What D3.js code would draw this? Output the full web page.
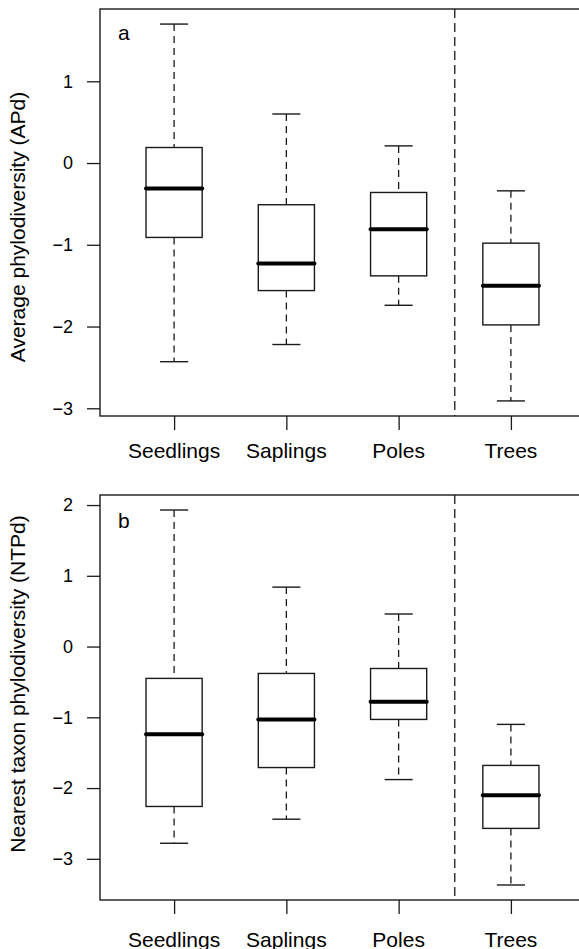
<!DOCTYPE html>
<html>
<head>
<meta charset="utf-8">
<script src="https://cdn.jsdelivr.net/npm/d3@7"></script>
<style>
  body { margin: 0; background: #fff; }
  svg { display: block; font-family: "Liberation Sans", Arial, Helvetica, sans-serif; }
</style>
</head>
<body>
<svg id="chart" width="579" height="949"></svg>
<script>
// categories (stage classes)
var categories = ["Seedlings", "Saplings", "Poles", "Trees"];

// panel a: average phylodiversity (APd), five-number summaries
var apdLow    = [-2.43, -2.22, -1.74, -2.91];
var apdQ1     = [-0.91, -1.56, -1.38, -1.98];
var apdMedian = [-0.31, -1.23, -0.81, -1.50];
var apdQ3     = [ 0.19, -0.51, -0.36, -0.98];
var apdHigh   = [ 1.70,  0.60,  0.21, -0.34];
var apdTicks  = [-3, -2, -1, 0, 1];

// panel b: nearest taxon phylodiversity (NTPd)
var ntpLow    = [-2.78, -2.44, -1.88, -3.37];
var ntpQ1     = [-2.26, -1.71, -1.03, -2.57];
var ntpMedian = [-1.24, -1.03, -0.78, -2.10];
var ntpQ3     = [-0.45, -0.38, -0.31, -1.68];
var ntpHigh   = [ 1.93,  0.84,  0.46, -1.10];
var ntpTicks  = [-3, -2, -1, 0, 1, 2];

var lineColor = "#1a1a1a";
var svg = d3.select("#chart");

// x: boxes sit at 1..n, R style limits (0.5..n+0.5, padded 4%)
var pad = 0.04 * categories.length;
var x = d3.scaleLinear()
    .domain([0.5 - pad, categories.length + 0.5 + pad])
    .range([100, 585]);
var boxHalf = 0.25, capHalf = 0.125;

function minus(v) {
  return v < 0 ? "\u2212" + Math.abs(v) : String(v);
}

function drawPanel(opt) {
  var lo = d3.min(opt.low), hi = d3.max(opt.high);
  var ext = (hi - lo) * 0.04;
  var y = d3.scaleLinear().domain([lo - ext, hi + ext]).range([opt.bottom, opt.top]);
  var g = svg.append("g");

  // frame (right side falls outside the picture)
  g.append("rect")
    .attr("x", x.range()[0]).attr("y", opt.top)
    .attr("width", x.range()[1] - x.range()[0])
    .attr("height", opt.bottom - opt.top)
    .attr("fill", "none").attr("stroke", lineColor).attr("stroke-width", 1.4);

  // y axis
  var yAxis = d3.axisLeft(y).tickValues(opt.ticks).tickSize(13).tickPadding(14)
      .tickFormat(minus);
  var ya = g.append("g").attr("transform", "translate(" + x.range()[0] + ",0)").call(yAxis);
  ya.select(".domain").remove();
  ya.selectAll(".tick line").attr("stroke", lineColor).attr("stroke-width", 1.3);
  ya.selectAll(".tick text").attr("fill", "#000").style("font-size", "18px");

  // x axis
  var xAxis = d3.axisBottom(x).tickValues(d3.range(1, categories.length + 1))
      .tickSize(14).tickPadding(0).tickFormat(function() { return ""; });
  var xa = g.append("g").attr("transform", "translate(0," + opt.bottom + ")").call(xAxis);
  xa.select(".domain").remove();
  xa.selectAll(".tick line").attr("stroke", lineColor).attr("stroke-width", 1.3);
  g.selectAll(".xlab").data(categories).enter().append("text")
    .attr("x", function(d, i) { return x(i + 1); })
    .attr("y", opt.labelY)
    .attr("text-anchor", "middle")
    .style("font-size", "21px")
    .text(function(d) { return d; });

  // y title
  g.append("text")
    .attr("transform", "translate(" + opt.titleX + "," + opt.titleY + ") rotate(-90)")
    .attr("text-anchor", "middle")
    .style("font-size", "21px")
    .text(opt.title);

  // panel letter
  g.append("text").attr("x", 118).attr("y", opt.letterY)
    .style("font-size", "21px").text(opt.letter);

  // separator between understorey classes and trees
  g.append("line")
    .attr("x1", x(categories.length - 0.5)).attr("x2", x(categories.length - 0.5))
    .attr("y1", opt.top).attr("y2", opt.bottom)
    .attr("stroke", lineColor).attr("stroke-width", 1.3).attr("stroke-dasharray", "9,5");

  categories.forEach(function(c, i) {
    var cx = x(i + 1);
    var b = g.append("g");
    // whiskers
    [[opt.low[i], opt.q1[i]], [opt.q3[i], opt.high[i]]].forEach(function(p) {
      b.append("line").attr("x1", cx).attr("x2", cx)
        .attr("y1", y(p[1])).attr("y2", y(p[0]))
        .attr("stroke", lineColor).attr("stroke-width", 1.3).attr("stroke-dasharray", "7,5");
    });
    [opt.low[i], opt.high[i]].forEach(function(v) {
      b.append("line")
        .attr("x1", x(i + 1 - capHalf)).attr("x2", x(i + 1 + capHalf))
        .attr("y1", y(v)).attr("y2", y(v))
        .attr("stroke", lineColor).attr("stroke-width", 1.4);
    });
    // box
    b.append("rect")
      .attr("x", x(i + 1 - boxHalf)).attr("y", y(opt.q3[i]))
      .attr("width", x(i + 1 + boxHalf) - x(i + 1 - boxHalf))
      .attr("height", y(opt.q1[i]) - y(opt.q3[i]))
      .attr("fill", "#fff").attr("stroke", lineColor).attr("stroke-width", 1.4);
    // median
    b.append("line")
      .attr("x1", x(i + 1 - boxHalf)).attr("x2", x(i + 1 + boxHalf))
      .attr("y1", y(opt.median[i])).attr("y2", y(opt.median[i]))
      .attr("stroke", "#000").attr("stroke-width", 4).attr("stroke-linecap", "round");
  });
}

drawPanel({
  top: 9, bottom: 416, labelY: 458, titleX: 25, titleY: 227, letter: "a", letterY: 40,
  title: "Average phylodiversity (APd)", ticks: apdTicks,
  low: apdLow, q1: apdQ1, median: apdMedian, q3: apdQ3, high: apdHigh
});

drawPanel({
  top: 495, bottom: 900, labelY: 947, titleX: 25, titleY: 684, letter: "b", letterY: 528,
  title: "Nearest taxon phylodiversity (NTPd)", ticks: ntpTicks,
  low: ntpLow, q1: ntpQ1, median: ntpMedian, q3: ntpQ3, high: ntpHigh
});
</script>
</body>
</html>
